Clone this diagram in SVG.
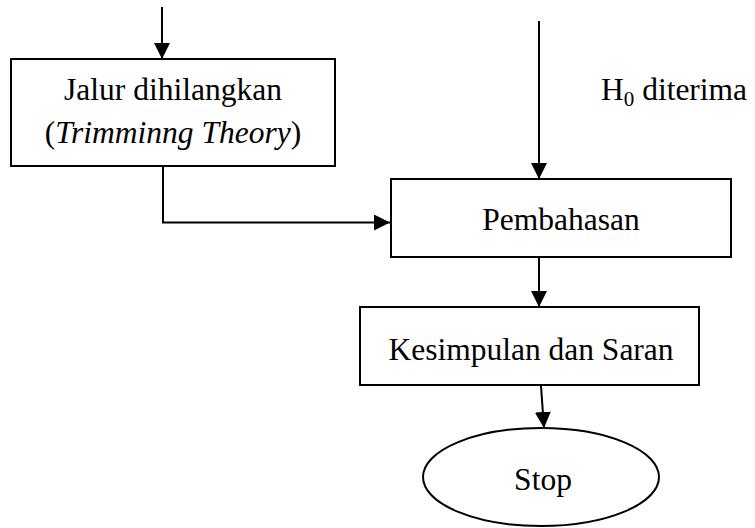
<svg xmlns="http://www.w3.org/2000/svg" width="755" height="528" viewBox="0 0 755 528">
<style>
.box{fill:#fff;stroke:#000;stroke-width:2}
.t{font-family:"Liberation Serif","Times New Roman",serif;font-size:31.5px;fill:#000;text-anchor:middle}
.c{fill:none;stroke:#000;stroke-width:2}
</style>
<defs>
<marker id="ah" markerUnits="userSpaceOnUse" markerWidth="16" markerHeight="16" refX="16" refY="8" orient="auto">
<path d="M0,0 L16,8 L0,16 Z" fill="#000"/>
</marker>
</defs>
<rect width="755" height="528" fill="#fff"/>
<g id="connectors">
<line class="c" x1="162" y1="7" x2="162" y2="59" marker-end="url(#ah)"/>
<line class="c" x1="539" y1="21" x2="539" y2="179" marker-end="url(#ah)"/>
<polyline class="c" points="163,166 163,222.5 390,222.5" marker-end="url(#ah)"/>
<line class="c" x1="539" y1="257" x2="539" y2="307" marker-end="url(#ah)"/>
<line class="c" x1="541" y1="386" x2="544" y2="428" marker-end="url(#ah)"/>
</g>
<g id="label-h0">
<text class="t" x="601" y="100" style="text-anchor:start">H<tspan font-size="21" dy="6">0</tspan><tspan dy="-6"> diterima</tspan></text>
</g>
<g id="node-jalur">
<rect class="box" x="11" y="59" width="324" height="107"/>
<text class="t" x="173" y="100">Jalur dihilangkan</text>
<text class="t" x="173" y="143">(<tspan font-style="italic">Trimminng Theory</tspan>)</text>
</g>
<g id="node-pembahasan">
<rect class="box" x="391" y="179" width="340" height="78"/>
<text class="t" x="561" y="230">Pembahasan</text>
</g>
<g id="node-kesimpulan">
<rect class="box" x="360" y="307" width="339" height="78"/>
<text class="t" x="531" y="360">Kesimpulan dan Saran</text>
</g>
<g id="node-stop">
<ellipse class="box" cx="541" cy="477" rx="118" ry="49"/>
<text class="t" x="543" y="490">Stop</text>
</g>
</svg>
